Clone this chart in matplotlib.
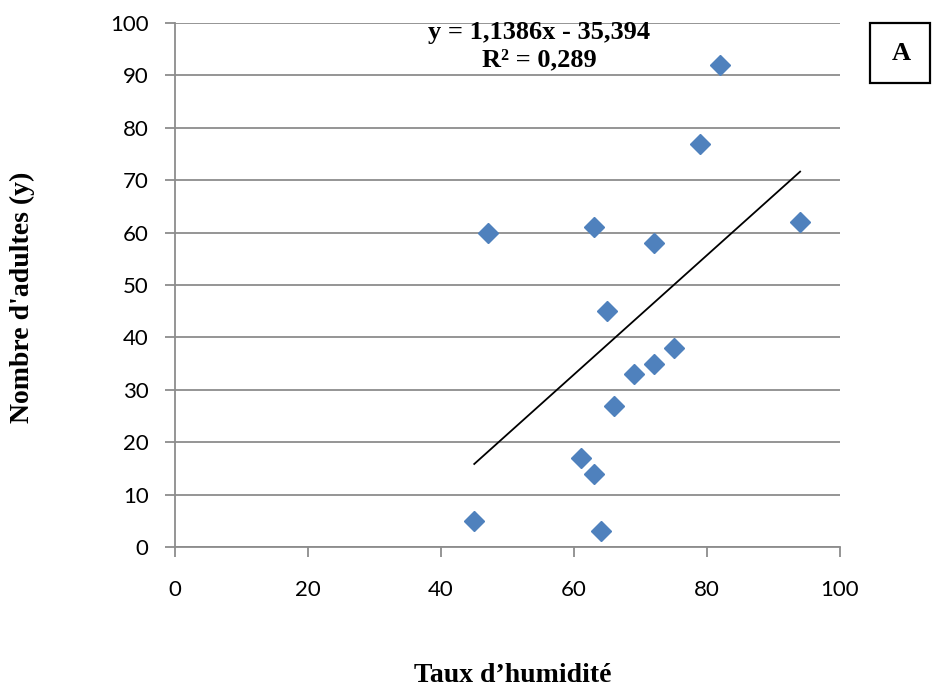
import matplotlib

matplotlib.use("Agg")
import matplotlib.pyplot as plt
from matplotlib.patches import Rectangle
import numpy as np

# humidity (%) vs number of adults
humidity = [45, 47, 61, 63, 64, 63, 65, 66, 69, 72, 72, 75, 79, 82, 94]
adults = [5, 60, 17, 14, 3, 61, 45, 27, 33, 35, 58, 38, 77, 92, 62]

slope, intercept = 1.1386, -35.394
r2 = 0.289

x_ticks = [0, 20, 40, 60, 80, 100]
y_ticks = list(range(0, 101, 10))

W, H = 933, 687
fig = plt.figure(figsize=(W / 100, H / 100), dpi=100)
ax = fig.add_axes([175 / W, 1 - 547 / H, 665 / W, 524 / H])

ax.set_xlim(0, 100)
ax.set_ylim(0, 100)
ax.set_xticks(x_ticks)
ax.set_yticks(y_ticks)
ax.grid(axis="y", color="#8c8c8c", lw=1.3)
ax.set_axisbelow(True)
for s in ("top", "right"):
    ax.spines[s].set_visible(False)
for s in ("left", "bottom"):
    ax.spines[s].set_color("#8c8c8c")
    ax.spines[s].set_linewidth(1.3)
ax.tick_params(axis="both", color="#8c8c8c", width=1.3, length=7,
               labelsize=16)
ax.tick_params(axis="y", pad=12)
ax.tick_params(axis="x", pad=17)
for lab in ax.get_xticklabels() + ax.get_yticklabels():
    lab.set_family("Lato")

ax.plot(humidity, adults, "D", color="#4f81bd", ms=10, mec="#4f81bd",
        clip_on=False, zorder=3)

xs = np.array([min(humidity), max(humidity)])
ax.plot(xs, slope * xs + intercept, color="black", lw=1.3, zorder=2)

serif = "Liberation Serif"
fig.text(539 / W, 1 - 32 / H, "y = 1,1386x - 35,394", ha="center",
         va="center", family=serif, weight="bold", fontsize=19)
fig.text(539 / W, 1 - 60 / H, f"R² = {r2}".replace(".", ","),
         ha="center", va="center", family=serif, weight="bold", fontsize=19)

fig.patches.append(Rectangle((870 / W, 1 - 83 / H), 60 / W, 60 / H,
                             transform=fig.transFigure, fc="white",
                             ec="black", lw=1.6))
fig.text(901 / W, 1 - 54 / H, "A", ha="center", va="center",
         family=serif, weight="bold", fontsize=19)

fig.text(513 / W, 1 - 675 / H, "Taux d’humidité", ha="center",
         va="center", family=serif, weight="bold", fontsize=20)
fig.text(22 / W, 1 - 297 / H, "Nombre d'adultes (y)", ha="center",
         va="center", rotation=90, family=serif, weight="bold", fontsize=20)

fig.savefig("out.png", dpi=100)
